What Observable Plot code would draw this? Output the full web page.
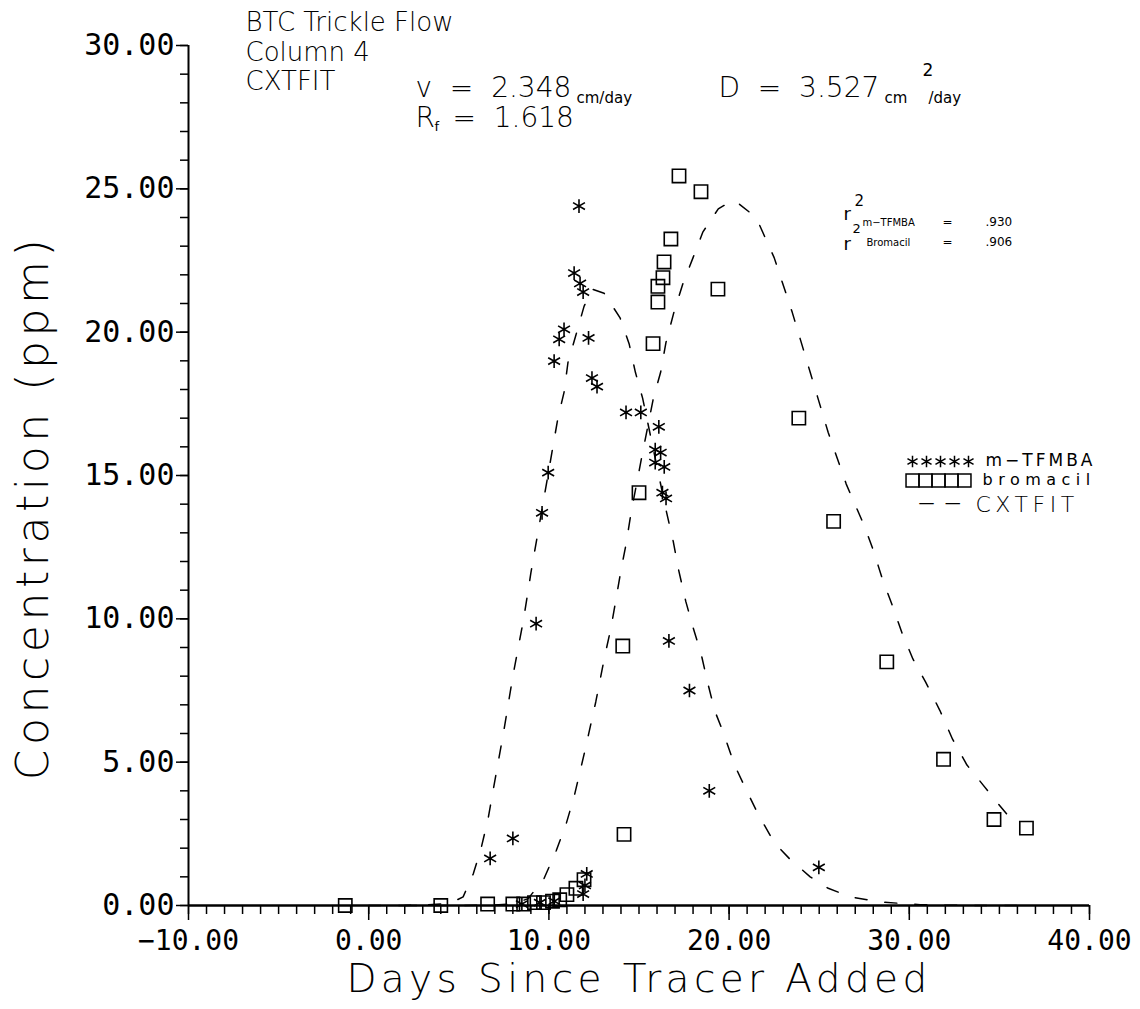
<!DOCTYPE html>
<html><head><meta charset="utf-8">
<script src="https://cdn.jsdelivr.net/npm/d3@7"></script>
<script src="https://cdn.jsdelivr.net/npm/@observablehq/plot@0.6"></script>
<style>
body{margin:0;background:#fff;}
#chart{width:1140px;height:1009px;}
</style></head><body><div id="chart"></div>
<script>
// ---- data ----
const tfmbaX = [11.67, 11.4, 11.73, 11.9, 10.84, 10.57, 12.2, 10.29, 12.39, 12.67, 9.96, 9.62, 9.29, 8.0, 6.74, 14.28, 15.1, 16.1, 15.9, 16.2, 15.9, 16.4, 16.3, 16.5, 16.66, 17.8, 18.9, 24.98, 12.1, 12.0, 11.9, 10.3, 9.5, 8.5];
const tfmbaY = [24.4, 22.06, 21.7, 21.4, 20.1, 19.75, 19.8, 18.99, 18.4, 18.1, 15.1, 13.7, 9.83, 2.34, 1.64, 17.2, 17.2, 16.7, 15.9, 15.8, 15.45, 15.3, 14.4, 14.2, 9.23, 7.5, 4.0, 1.33, 1.1, 0.7, 0.4, 0.15, 0.1, 0.05];

const bromX = [-1.3, 4.0, 6.6, 8.0, 8.6, 9.2, 9.7, 10.2, 10.6, 11.0, 11.5, 11.95, 14.17, 14.1, 15.0, 15.78, 16.05, 16.05, 16.33, 16.39, 16.77, 17.22, 18.44, 19.38, 23.87, 25.8, 28.75, 31.9, 34.7, 36.5];
const bromY = [0.0, 0.0, 0.05, 0.05, 0.05, 0.1, 0.1, 0.15, 0.2, 0.38, 0.6, 0.9, 2.48, 9.05, 14.4, 19.6, 21.05, 21.6, 21.9, 22.45, 23.25, 25.45, 24.9, 21.5, 17.0, 13.4, 8.5, 5.1, 3.0, 2.7];

const fitTfmbaX = [0, 2, 3, 4, 4.6, 5.24, 5.8, 6.24, 6.63, 6.9, 7.5, 8.0, 8.6, 9.0, 9.5, 10.0, 10.5, 10.84, 11.06, 11.5, 11.95, 12.4, 13.06, 13.95, 14.45, 14.8, 15.2, 16.5, 16.9, 17.2, 17.6, 18.0, 18.44, 18.8, 19.2, 19.7, 20.3, 20.9, 21.6, 22.5, 23.4, 24.5, 25.5, 26.75, 28.4, 30.6, 33, 36];
const fitTfmbaY = [0, 0, 0.02, 0.05, 0.1, 0.3, 1.1, 2.0, 3.04, 4.0, 6.1, 8.0, 10.0, 11.6, 13.4, 15.2, 17.0, 17.9, 18.95, 19.9, 20.9, 21.5, 21.36, 20.5, 19.6, 18.6, 17.7, 13.8, 12.7, 11.7, 10.6, 9.7, 8.8, 7.8, 6.8, 6.0, 4.9, 4.1, 3.2, 2.2, 1.6, 1.0, 0.6, 0.3, 0.12, 0.03, 0, 0];

const fitBromX = [2, 5, 7, 8, 8.85, 9.73, 10.4, 10.95, 11.4, 12.0, 12.6, 13.1, 13.45, 13.7, 14.0, 14.28, 14.56, 15.2, 15.8, 16.2, 16.5, 16.94, 17.44, 18.0, 18.55, 19.4, 20.2, 20.5, 21.5, 22.5, 23.5, 24.5, 25.5, 26.5, 27.5, 28.0, 28.5, 29.1, 29.6, 30.2, 30.9, 31.7, 32.4, 33.2, 34.1, 35.0, 35.4];
const fitBromY = [0, 0, 0.02, 0.05, 0.24, 0.94, 1.9, 2.83, 3.8, 5.4, 7.1, 8.7, 9.7, 10.6, 11.7, 12.6, 13.7, 15.8, 17.7, 18.6, 19.65, 20.7, 21.7, 22.6, 23.5, 24.3, 24.6, 24.5, 24.0, 22.6, 20.7, 18.6, 16.5, 14.7, 13.25, 12.4, 11.4, 10.4, 9.5, 8.6, 7.8, 6.8, 5.8, 4.9, 4.2, 3.5, 3.2];

const xTicks = [-10, 0, 10, 20, 30, 40];
const yTicks = [0, 5, 10, 15, 20, 25, 30];
const xMinorTicks = d3.range(-10, 41, 1);
const yMinorTicks = d3.range(0, 31, 1);

// ---- build tables ----
const tfmba = tfmbaX.map((x, i) => ({x, y: tfmbaY[i]}));
const brom = bromX.map((x, i) => ({x, y: bromY[i]}));
const fitT = fitTfmbaX.map((x, i) => ({x, y: fitTfmbaY[i]}));
const fitB = fitBromX.map((x, i) => ({x, y: fitBromY[i]}));

const W = 1140, H = 1009, ML = 188, MT = 45, MR = 51, MB = 104;
const SANS = "DejaVu Sans";
const MONO = "DejaVu Sans Mono";

function label(t, x, y, size, extra = {}) {
  return Plot.text([t], {text: d => d, frameAnchor: "top-left", dx: x - ML, dy: y - MT,
    fontSize: size, textAnchor: "start", lineAnchor: "middle", fill: "black", fontFamily: SANS,
    fontWeight: size >= 20 ? 200 : 400, ...extra});
}
function swatch(symbol, x, y, r) {
  return Plot.dot([0], {frameAnchor: "top-left", dx: x - ML, dy: y - MT, symbol, r,
    stroke: "black", fill: "none", strokeWidth: 1.5});
}

const marks = [
  // fitted curves
  Plot.line(fitT, {x: "x", y: "y", stroke: "black", strokeWidth: 1.5, strokeDasharray: "12,18"}),
  Plot.line(fitB, {x: "x", y: "y", stroke: "black", strokeWidth: 1.5, strokeDasharray: "12,18"}),
  // axes lines
  Plot.ruleY([0], {x1: -10, x2: 40, stroke: "black", strokeWidth: 2.5}),
  Plot.ruleX([-10], {y1: 0, y2: 30, stroke: "black", strokeWidth: 2}),
  Plot.axisX(xMinorTicks, {tickSize: 9, tickFormat: () => "", strokeWidth: 1.5, label: null}),
  Plot.axisX(xTicks, {tickSize: 15, tickFormat: d3.format(".2f"), fontSize: 28, fontFamily: MONO, tickPadding: 10, strokeWidth: 1.5, label: null}),
  Plot.axisY(yMinorTicks, {tickSize: 8, tickFormat: () => "", strokeWidth: 1.5, label: null}),
  Plot.axisY(yTicks, {tickSize: 12, tickFormat: d3.format(".2f"), fontSize: 30, fontFamily: MONO, tickPadding: 2, strokeWidth: 1.5, label: null}),
  // data
  Plot.dot(tfmba, {x: "x", y: "y", symbol: "asterisk", r: 6.5, stroke: "black", strokeWidth: 1.6}),
  Plot.dot(brom, {x: "x", y: "y", symbol: "square", r: 7.5, stroke: "black", fill: "none", strokeWidth: 1.6}),
  // axis titles
  Plot.text(["Days Since Tracer Added"], {text: d => d, frameAnchor: "bottom", dy: 74, fontSize: 39, fontFamily: SANS, fontWeight: 200, textAnchor: "middle", lineAnchor: "middle", fill: "black"}),
  Plot.text(["Concentration (ppm)"], {text: d => d, frameAnchor: "left", dx: -155, dy: 32, rotate: -90, fontSize: 44, fontFamily: SANS, fontWeight: 200, textAnchor: "middle", lineAnchor: "middle", fill: "black"}),
  // title block
  label("BTC Trickle Flow", 245, 22, 26),
  label("Column 4", 245, 52, 26),
  label("CXTFIT", 245, 81, 26),
  label("v  =  2.348", 415, 88, 28),
  label("cm/day", 576, 98, 15),
  label("R", 415, 118, 28),
  label("f", 434, 126, 13),
  label("=  1.618", 452, 118, 28),
  label("D  =  3.527", 718, 88, 28),
  label("cm", 884, 98, 15),
  label("2", 922, 70, 17),
  label("/day", 928, 98, 15),
  // r-squared annotation
  label("2", 854, 201, 15),
  label("r", 843, 214, 18),
  label("2", 852, 228, 13),
  label("m−TFMBA", 862, 222, 10),
  label("=", 942, 222, 12),
  label(".930", 985, 222, 12),
  label("r", 843, 244, 18),
  label("Bromacil", 866, 242, 10),
  label("=", 942, 242, 12),
  label(".906", 985, 242, 12),
  // legend
  ...d3.range(5).map(k => swatch("asterisk", 912 + k * 14, 461, 5.5)),
  label("m−TFMBA", 985, 460, 17),
  ...d3.range(5).map(k => swatch("square", 912 + k * 13, 480, 7.3)),
  label("bromacil", 982, 479, 16),
  label("—  —", 918, 502, 16),
  label("CXTFIT", 975, 504, 22)
];

const chart = Plot.plot({
  width: W, height: H,
  marginLeft: ML, marginTop: MT, marginRight: MR, marginBottom: MB,
  x: {domain: [-10, 40], label: null},
  y: {domain: [0, 30], label: null},
  style: {background: "white", color: "black", fontFamily: SANS},
  marks
});

// letter spacing (text, font size, spacing in px)
const spacing = [["Days Since Tracer Added", "39", 4.4], ["Concentration (ppm)", "44", 4.6],
                 ["bromacil", "16", 5.5], ["m−TFMBA", "17", 3], ["CXTFIT", "22", 4.5]];
d3.select(chart).selectAll("text").each(function() {
  const fs = this.closest("[font-size]")?.getAttribute("font-size");
  for (const [t, s, ls] of spacing) {
    if (this.textContent === t && fs === s) this.setAttribute("letter-spacing", ls);
  }
});
document.getElementById("chart").append(chart);
</script>
</body></html>
